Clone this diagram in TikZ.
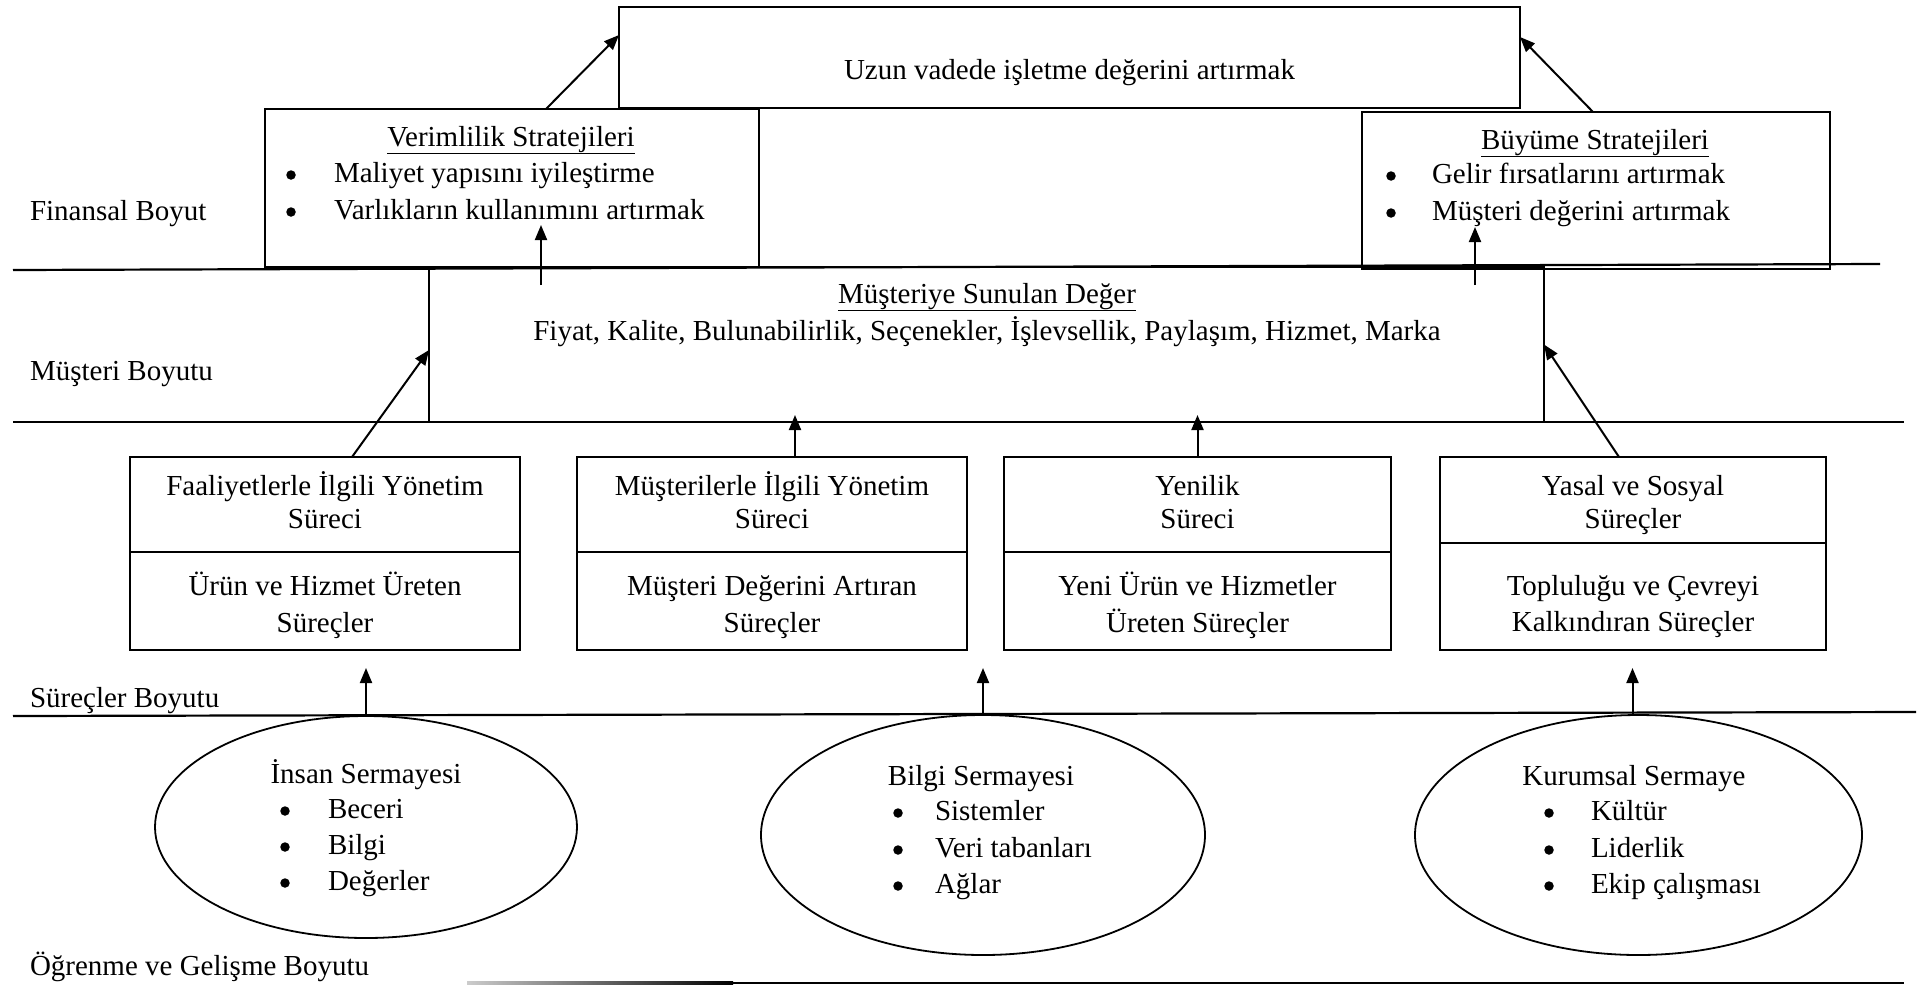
\documentclass[tikz,border=0pt]{standalone}
\usepackage{fontspec}
\setmainfont{Liberation Serif}
\usetikzlibrary{shapes.geometric,arrows.meta,calc}
\newcommand\diagfont{\fontsize{29pt}{35pt}\selectfont}
\tikzset{
  box/.style={draw, line width=2pt, inner sep=0pt, outer sep=0pt},
  capital/.style={draw, ellipse, line width=1.8pt, inner sep=0pt, outer sep=0pt},
  rule/.style={line width=2.2pt},
  conn/.style={line width=2pt, -{Triangle[length=15pt,width=12pt]}},
  lbl/.style={inner sep=0pt, outer sep=0pt, anchor=base, font=\diagfont},
  lblw/.style={lbl, anchor=base west},
  bul/.style={circle, fill, inner sep=0pt, minimum size=9.5pt},
}
\begin{document}
\begin{tikzpicture}[x=1pt,y=-1pt]
\useasboundingbox (0,0) rectangle (1927,986);

% dimension separators
\draw[rule] (13,270) -- (1880,264);
\draw[rule] (13,422) -- (1904,422);
\draw[rule] (13,716) -- (1916,712);
\shade[left color=white!80!black, right color=black] (467,981.9) rectangle (733,984.1);
\draw[rule] (733,983) -- (1904,983);

% dimension labels
\node[lblw] (lfin) at (30,220) {Finansal Boyut};
\node[lblw] (lmus) at (30,380) {Müşteri Boyutu};
\node[lblw] (lsur) at (30,707) {Süreçler Boyutu};
\node[lblw] (logr) at (30,975) {Öğrenme ve Gelişme Boyutu};

% financial level
\node[box, minimum width=901pt, minimum height=101pt] (top) at (1069.5,57.5) {};
\node[lbl] (toptxt) at (1069.5,79) {Uzun vadede işletme değerini artırmak};

\node[box, minimum width=494pt, minimum height=158pt] (ver) at (512,188) {};
\node[lbl] (vert) at (511,146) {\underline{Verimlilik Stratejileri}};
\node[bul] (verb1) at (291,175) {};
\node[lblw] (veri1) at (334,182) {Maliyet yapısını iyileştirme};
\node[bul] (verb2) at (291,212) {};
\node[lblw] (veri2) at (334,219) {Varlıkların kullanımını artırmak};

\node[box, minimum width=468pt, minimum height=157pt] (bue) at (1596,190.5) {};
\node[lbl] (buet) at (1595,149) {\underline{Büyüme Stratejileri}};
\node[bul] (bueb1) at (1391,176) {};
\node[lblw] (buei1) at (1432,183) {Gelir fırsatlarını artırmak};
\node[bul] (bueb2) at (1391,213) {};
\node[lblw] (buei2) at (1432,220) {Müşteri değerini artırmak};

% customer level
\node[box, minimum width=1115pt, minimum height=155pt] (mus) at (986.5,344.5) {};
\node[lbl] (must) at (987,303) {\underline{Müşteriye Sunulan Değer}};
\node[lbl] (musi) at (987,340) {Fiyat, Kalite, Bulunabilirlik, Seçenekler, İşlevsellik, Paylaşım, Hizmet, Marka};

% process level
\node[box, minimum width=390pt, minimum height=95pt] (p1a) at (325,504.5) {};
\node[box, minimum width=390pt, minimum height=98pt] (p1b) at (325,601) {};
\node[lbl] (p1t1) at (325,495) {Faaliyetlerle İlgili Yönetim};
\node[lbl] (p1t2) at (325,528) {Süreci};
\node[lbl] (p1t3) at (325,595) {Ürün ve Hizmet Üreten};
\node[lbl] (p1t4) at (325,632) {Süreçler};

\node[box, minimum width=390pt, minimum height=95pt] (p2a) at (772,504.5) {};
\node[box, minimum width=390pt, minimum height=98pt] (p2b) at (772,601) {};
\node[lbl] (p2t1) at (772,495) {Müşterilerle İlgili Yönetim};
\node[lbl] (p2t2) at (772,528) {Süreci};
\node[lbl] (p2t3) at (772,595) {Müşteri Değerini Artıran};
\node[lbl] (p2t4) at (772,632) {Süreçler};

\node[box, minimum width=387pt, minimum height=95pt] (p3a) at (1197.5,504.5) {};
\node[box, minimum width=387pt, minimum height=98pt] (p3b) at (1197.5,601) {};
\node[lbl] (p3t1) at (1197.5,495) {Yenilik};
\node[lbl] (p3t2) at (1197.5,528) {Süreci};
\node[lbl] (p3t3) at (1197.5,595) {Yeni Ürün ve Hizmetler};
\node[lbl] (p3t4) at (1197.5,632) {Üreten Süreçler};

\node[box, minimum width=386pt, minimum height=86pt] (p4a) at (1633,500) {};
\node[box, minimum width=386pt, minimum height=107pt] (p4b) at (1633,596.5) {};
\node[lbl] (p4t1) at (1633,495) {Yasal ve Sosyal};
\node[lbl] (p4t2) at (1633,528) {Süreçler};
\node[lbl] (p4t3) at (1633,595) {Topluluğu ve Çevreyi};
\node[lbl] (p4t4) at (1633,631) {Kalkındıran Süreçler};

% learning and growth level
\node[capital, minimum width=422pt, minimum height=222pt] (e1) at (366,827) {};
\node[lbl] (e1t) at (366,783) {İnsan Sermayesi};
\node[bul] (e1b1) at (285,811) {};
\node[lblw] (e1i1) at (328,818) {Beceri};
\node[bul] (e1b2) at (285,847) {};
\node[lblw] (e1i2) at (328,854) {Bilgi};
\node[bul] (e1b3) at (285,883) {};
\node[lblw] (e1i3) at (328,890) {Değerler};

\node[capital, minimum width=444pt, minimum height=240pt] (e2) at (983,835) {};
\node[lbl] (e2t) at (981,785) {Bilgi Sermayesi};
\node[bul] (e2b1) at (898,813) {};
\node[lblw] (e2i1) at (935,820) {Sistemler};
\node[bul] (e2b2) at (898,850) {};
\node[lblw] (e2i2) at (935,857) {Veri tabanları};
\node[bul] (e2b3) at (898,886) {};
\node[lblw] (e2i3) at (935,893) {Ağlar};

\node[capital, minimum width=447pt, minimum height=240pt] (e3) at (1638.5,835) {};
\node[lbl] (e3t) at (1634,785) {Kurumsal Sermaye};
\node[bul] (e3b1) at (1549,813) {};
\node[lblw] (e3i1) at (1591,820) {Kültür};
\node[bul] (e3b2) at (1549,850) {};
\node[lblw] (e3i2) at (1591,857) {Liderlik};
\node[bul] (e3b3) at (1549,886) {};
\node[lblw] (e3i3) at (1591,893) {Ekip çalışması};

% connectors
\draw[conn] ([xshift=34pt]ver.north) -- ([yshift=22.5pt]top.west);
\draw[conn] ([xshift=-3pt]bue.north) -- ([yshift=20.5pt]top.east);

\coordinate (musV) at (541,285);
\coordinate (verIn) at (541,225);
\draw[conn] (musV) -- (verIn);
\coordinate (musB) at (1475,285);
\coordinate (bueIn) at (1475,227);
\draw[conn] (musB) -- (bueIn);

\draw[conn] ([xshift=27pt]p1a.north) -- ([yshift=-5.5pt]mus.west);
\coordinate (p2top) at ([xshift=23pt]p2a.north);
\draw[conn, shorten >=-7pt] (p2top) -- (p2top |- mus.south);
\draw[conn, shorten >=-7pt] (p3a.north) -- (p3a.north |- mus.south);
\draw[conn] ([xshift=-14pt]p4a.north) -- (mus.east);

\draw[conn, shorten >=18pt] (e1.north) -- (e1.north |- p1b.south);
\draw[conn, shorten >=18pt] (e2.north) -- (e2.north |- p2b.south);
\coordinate (e3top) at ([xshift=-6pt]e3.north);
\draw[conn, shorten >=18pt] (e3top) -- (e3top |- p4b.south);
\end{tikzpicture}
\end{document}
